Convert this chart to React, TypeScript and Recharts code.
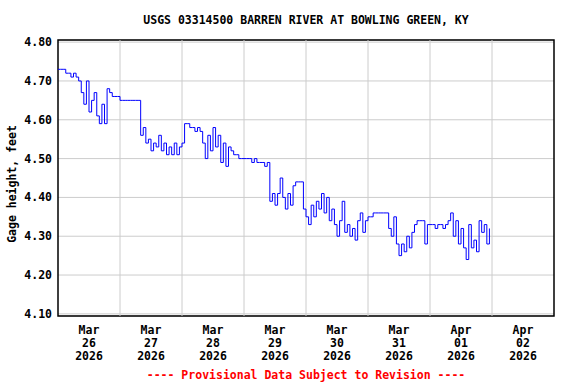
import React from "react";
import {
  CartesianGrid,
  LineChart,
  Line,
  ReferenceArea,
  ReferenceLine,
  XAxis,
  YAxis,
} from "recharts";

const TITLE = "USGS 03314500 BARREN RIVER AT BOWLING GREEN, KY";
const Y_LABEL = "Gage height, feet";
const FOOTER = "---- Provisional Data Subject to Revision ----";

// hourly gage height (feet), one array per day, 00:00 .. 23:00
const MAR_26 = [4.73, 4.73, 4.73, 4.72, 4.72, 4.71, 4.72, 4.71, 4.70, 4.67, 4.64, 4.70, 4.62, 4.65, 4.67, 4.61, 4.59, 4.64, 4.59, 4.68, 4.67, 4.66, 4.66, 4.66];
const MAR_27 = [4.65, 4.65, 4.65, 4.65, 4.65, 4.65, 4.65, 4.65, 4.56, 4.58, 4.54, 4.55, 4.52, 4.54, 4.53, 4.56, 4.52, 4.54, 4.51, 4.53, 4.51, 4.54, 4.51, 4.53];
const MAR_28 = [4.54, 4.59, 4.59, 4.58, 4.58, 4.57, 4.58, 4.57, 4.54, 4.50, 4.56, 4.52, 4.58, 4.53, 4.56, 4.49, 4.54, 4.48, 4.53, 4.52, 4.51, 4.51, 4.50, 4.50];
const MAR_29 = [4.50, 4.50, 4.50, 4.49, 4.50, 4.49, 4.49, 4.49, 4.48, 4.49, 4.39, 4.41, 4.38, 4.41, 4.45, 4.40, 4.37, 4.41, 4.38, 4.43, 4.44, 4.44, 4.44, 4.37];
const MAR_30 = [4.35, 4.33, 4.38, 4.35, 4.39, 4.37, 4.41, 4.36, 4.40, 4.34, 4.37, 4.33, 4.30, 4.34, 4.39, 4.31, 4.33, 4.30, 4.32, 4.29, 4.34, 4.36, 4.31, 4.34];
const MAR_31 = [4.35, 4.35, 4.36, 4.36, 4.36, 4.36, 4.36, 4.36, 4.32, 4.30, 4.35, 4.28, 4.25, 4.28, 4.26, 4.30, 4.27, 4.31, 4.33, 4.34, 4.34, 4.34, 4.28, 4.33];
const APR_01 = [4.33, 4.33, 4.32, 4.33, 4.33, 4.32, 4.33, 4.34, 4.36, 4.30, 4.34, 4.28, 4.32, 4.27, 4.24, 4.33, 4.27, 4.29, 4.26, 4.34, 4.31, 4.33, 4.28, 4.32];

const DAYS = [MAR_26, MAR_27, MAR_28, MAR_29, MAR_30, MAR_31, APR_01];

// x axis: hours since Mar 26 00:00, labels centred on noon
const TICK_HOURS = [12, 36, 60, 84, 108, 132, 156, 180];
const TICK_MONTHS = ["Mar", "Mar", "Mar", "Mar", "Mar", "Mar", "Apr", "Apr"];
const TICK_DAYS = ["26", "27", "28", "29", "30", "31", "01", "02"];
const TICK_YEAR = "2026";
const MIDNIGHTS = [24, 48, 72, 96, 120, 144, 168];

const Y_TICKS = [4.1, 4.2, 4.3, 4.4, 4.5, 4.6, 4.7, 4.8];
const Y_MIN = 4.0945;
const Y_MAX = 4.8055;

const data = DAYS.flatMap((vals, d) => vals.map((v, h) => ({ t: d * 24 + h, v })));

const FONT = "'DejaVu Sans Mono', monospace";
const txt = { fontFamily: FONT, fontWeight: 700, fontSize: 11.5, fill: "#000" };

function XTick({ x, y, payload }: any) {
  const i = TICK_HOURS.indexOf(payload.value);
  return (
    <text x={x} y={y} textAnchor="middle" style={txt}>
      <tspan x={x} dy={18}>{TICK_MONTHS[i]}</tspan>
      <tspan x={x} dy={13}>{TICK_DAYS[i]}</tspan>
      <tspan x={x} dy={13}>{TICK_YEAR}</tspan>
    </text>
  );
}

export default function App() {
  return (
    <div style={{ position: "fixed", left: 0, top: 0, width: 576, height: 384, background: "#fff" }}>
      <div
        style={{
          position: "absolute", left: 58, width: 496, top: 13, textAlign: "center",
          font: `bold 11.5px ${FONT}`, color: "#000", whiteSpace: "pre",
        }}
      >
        {TITLE}
      </div>
      <div style={{ position: "absolute", left: 12, top: 184, width: 0, height: 0 }}>
        <div
          style={{
            position: "absolute", transform: "translate(-50%, -50%) rotate(-90deg)",
            font: `bold 11.5px ${FONT}`, color: "#000", whiteSpace: "pre",
          }}
        >
          {Y_LABEL}
        </div>
      </div>
      <div
        style={{
          position: "absolute", left: 58, width: 496, top: 368, textAlign: "center",
          font: `bold 11.5px ${FONT}`, color: "#ff0000", whiteSpace: "pre",
        }}
      >
        {FOOTER}
      </div>
      <LineChart
        width={576}
        height={384}
        data={data}
        margin={{ top: 40, right: 22, bottom: 0, left: 0 }}
      >
        <CartesianGrid vertical={false} stroke="#cccccc" />
        {MIDNIGHTS.map((m) => (
          <ReferenceLine key={m} x={m} stroke="#cccccc" />
        ))}
        <XAxis
          dataKey="t"
          type="number"
          domain={[0, 192]}
          ticks={TICK_HOURS}
          tick={<XTick />}
          tickLine={false}
          tickSize={0}
          tickMargin={0}
          axisLine={false}
          height={68}
          interval={0}
        />
        <YAxis
          type="number"
          domain={[Y_MIN, Y_MAX]}
          ticks={Y_TICKS}
          tickFormatter={(v) => Number(v).toFixed(2)}
          tick={txt}
          tickLine={false}
          tickSize={0}
          tickMargin={6}
          axisLine={false}
          width={58}
          allowDataOverflow
        />
        <Line
          type="stepAfter"
          dataKey="v"
          stroke="#0000ff"
          strokeWidth={1}
          dot={false}
          activeDot={false}
          isAnimationActive={false}
        />
        <ReferenceArea x1={0} x2={192} y1={Y_MIN} y2={Y_MAX} stroke="#000" strokeWidth={1.5} fill="none" fillOpacity={0} />
      </LineChart>
    </div>
  );
}
